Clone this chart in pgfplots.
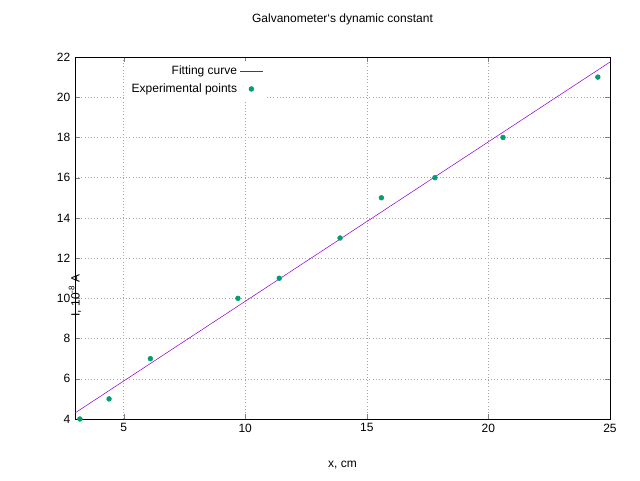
\documentclass[border=0pt]{standalone}
\usepackage{pgfplots}
\pgfplotsset{compat=1.18}
\usepackage{fontspec}
\setmainfont{Liberation Sans}
\definecolor{fitc}{HTML}{9400D3}
\definecolor{ptc}{HTML}{009E73}
\begin{document}
\begin{tikzpicture}
\path[use as bounding box] (-56.25pt,-45.75pt) rectangle (423.75pt,314.25pt);
\begin{axis}[
  at={(0,0)}, anchor=south west,
  scale only axis, width=401.25pt, height=271.5pt,
  xmin=3, xmax=25, ymin=4, ymax=22,
  xtick={5,10,15,20,25}, ytick={4,6,...,22},
  tick align=inside, tick pos=both,
  major tick length=4pt,
  grid=major, grid style={gray!70, dotted},
  font=\fontsize{9}{11}\selectfont,
  /pgf/number format/assume math mode=true,
  title={Galvanometer`s dynamic constant},
  title style={at={(0.5,1)}, anchor=center, yshift=22.5pt},
  xlabel={x, cm},
  xlabel style={at={(0.5,0)}, anchor=center, yshift=-34.5pt},
  ylabel={I, 10\textsuperscript{-8} A},
  ylabel style={at={(0,0.5)}, anchor=center, xshift=-43pt, rotate=0},
  legend style={at={(0.093,0.99)}, anchor=north west, draw=none, fill=white,
    font=\fontsize{9}{11}\selectfont, row sep=1pt},
  legend cell align=right, legend plot pos=right,
]
\addplot[fitc, thin] coordinates {(3,4.3) (25,21.75)};
\addlegendentry{Fitting curve}
\addplot[only marks, mark=*, mark size=1.8pt, ptc] coordinates {
(3.2,4) (4.4,5) (6.1,7) (9.7,10) (11.4,11) (13.9,13) (15.6,15) (17.8,16) (20.6,18) (24.5,21)};
\addlegendentry{Experimental points}
\end{axis}
\end{tikzpicture}
\end{document}
